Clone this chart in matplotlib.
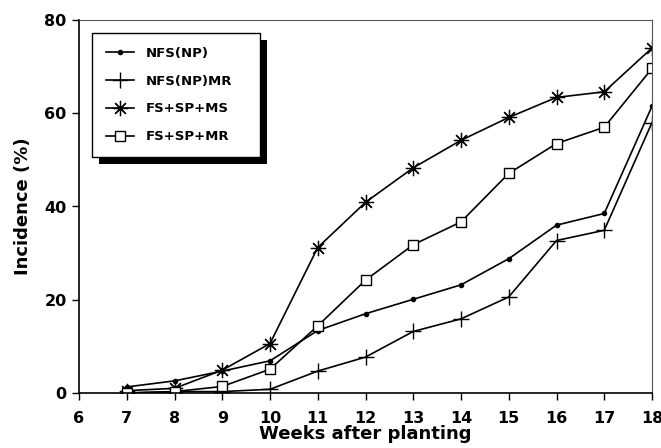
import matplotlib.pyplot as plt
from matplotlib.patches import Rectangle

plt.rcParams['font.family'] = ['DejaVu Sans']
plt.rcParams['font.weight'] = 'bold'

# Incidence (%) per week after planting
weeks = [7, 8, 9, 10, 11, 12, 13, 14, 15, 16, 17, 18]
nfs_np = [1.3, 2.6, 4.7, 6.9, 13.4, 17.0, 20.1, 23.2, 28.8, 36.0, 38.5, 61.5]
nfs_np_mr = [0.0, 0.3, 0.3, 0.8, 4.7, 7.7, 13.2, 15.9, 20.6, 32.7, 34.9, 58.0]
fs_sp_ms = [0.5, 1.0, 4.9, 10.6, 31.2, 40.9, 48.3, 54.2, 59.1, 63.4, 64.6, 74.0]
fs_sp_mr = [0.0, 0.3, 1.4, 5.1, 14.4, 24.2, 31.8, 36.7, 47.1, 53.5, 57.0, 69.6]

fig = plt.figure(figsize=(6.61, 4.48), dpi=100)
ax = fig.add_axes([79 / 661, 1 - 393 / 448, (652 - 79) / 661, (393 - 20) / 448])

lw = 1.2
ax.plot(weeks, nfs_np, color='black', lw=lw, marker='o', ms=3, label='NFS(NP)')
ax.plot(weeks, nfs_np_mr, color='black', lw=lw, marker='+', ms=11, mew=1.0, label='NFS(NP)MR')
ax.plot(weeks, fs_sp_ms, color='black', lw=lw, marker=(8, 2, 0), ms=11, mew=0.9, label='FS+SP+MS')
ax.plot(weeks, fs_sp_mr, color='black', lw=lw, marker='s', ms=7, mfc='white', mew=1.0, label='FS+SP+MR')

ax.set_xlim(6, 18)
ax.set_ylim(0, 80)
ax.set_xticks(range(6, 19))
ax.set_yticks([0, 20, 40, 60, 80])
ax.tick_params(axis='both', direction='out', length=5, width=1.0, labelsize=11.5, pad=4)
ax.tick_params(axis='x', pad=8)
ax.spines['left'].set_linewidth(1.2)
ax.spines['bottom'].set_linewidth(1.2)
ax.spines['top'].set_linewidth(0.8)
ax.spines['top'].set_color('#555555')
ax.spines['right'].set_linewidth(0.8)
ax.spines['right'].set_color('#555555')

ax.set_xlabel('Weeks after planting', fontsize=13, fontweight='bold', labelpad=-1)
ax.set_ylabel('Incidence (%)', fontsize=13, fontweight='bold', labelpad=9)

leg = ax.legend(loc='upper left', bbox_to_anchor=(13 / 573, 1 - 13 / 373, 168 / 573, 0),
                mode='expand', fancybox=False, framealpha=1, edgecolor='black',
                prop={'weight': 'bold', 'size': 9.5}, handlelength=2.1,
                labelspacing=1.12, borderpad=1.05, handletextpad=0.9,
                borderaxespad=0)
leg.get_frame().set_linewidth(1.0)
leg.set_zorder(6)

fig.canvas.draw()
bb = leg.get_window_extent()
shadow = Rectangle((bb.x0 + 7, bb.y0 - 7), bb.width, bb.height, transform=None,
                   facecolor='black', edgecolor='none', zorder=5)
ax.add_artist(shadow)

fig.savefig('out.png', dpi=100)
